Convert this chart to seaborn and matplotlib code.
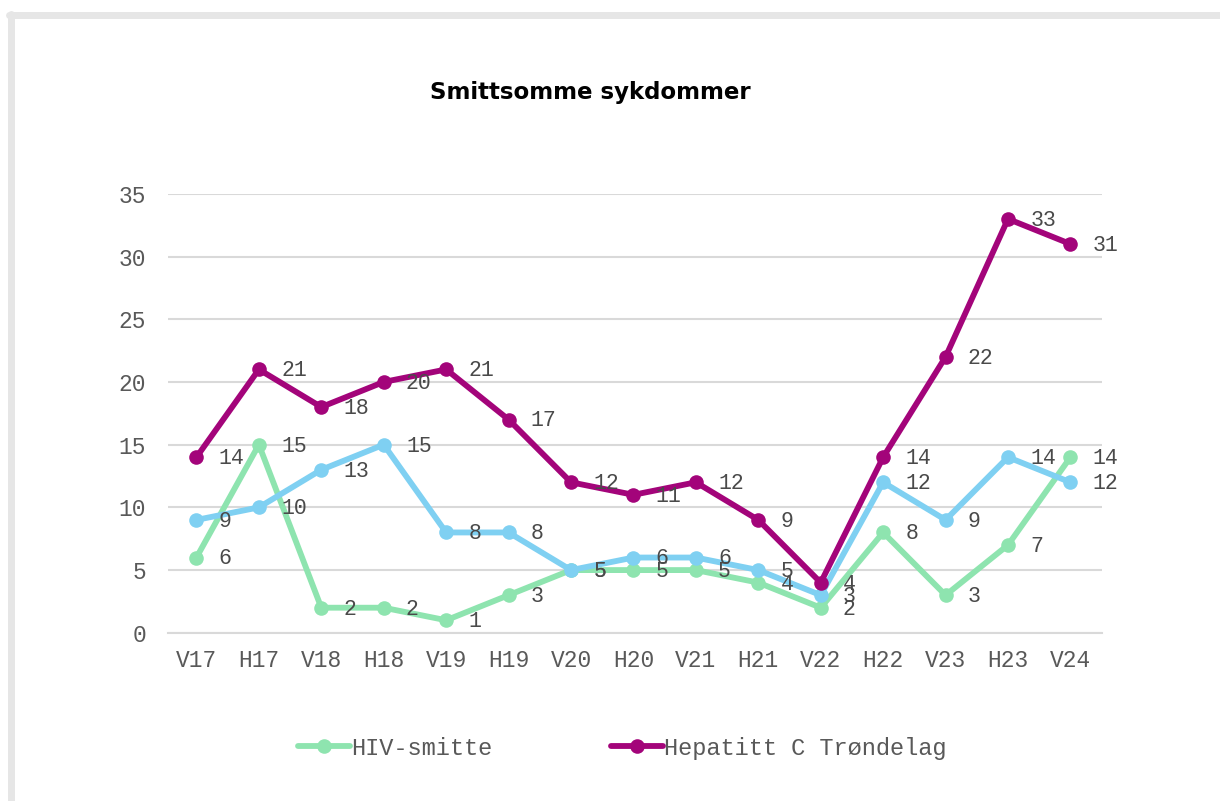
import matplotlib
matplotlib.use("Agg")
import matplotlib.pyplot as plt
import seaborn as sns
import pandas as pd
from matplotlib.lines import Line2D

periods = ["V17", "H17", "V18", "H18", "V19", "H19", "V20", "H20", "V21", "H21",
           "V22", "H22", "V23", "H23", "V24"]
hiv = [6, 15, 2, 2, 1, 3, 5, 5, 5, 4, 2, 8, 3, 7, 14]
hepc = [14, 21, 18, 20, 21, 17, 12, 11, 12, 9, 4, 14, 22, 33, 31]
third = [9, 10, 13, 15, 8, 8, 5, 6, 6, 5, 3, 12, 9, 14, 12]
series_names = ["HIV-smitte", "Hepatitt C Trøndelag", "Øvrige"]
colors = ["#8EE4AF", "#A3047A", "#7FD0F2"]

sns.set_theme(style="white")
plt.rcParams['font.family'] = ['Liberation Mono', 'DejaVu Sans Mono']

rows = []
for name, vals in zip(series_names, [hiv, hepc, third]):
    for i, (p, v) in enumerate(zip(periods, vals)):
        rows.append({"idx": i, "periode": p, "verdi": v, "serie": name})
df = pd.DataFrame(rows)

fig = plt.figure(figsize=(12.2, 8.01), dpi=100)
ax = fig.add_axes([0.138, 0.21, 0.765, 0.548])

LW = 4.2
MS = 10.5
# draw order: HIV, blue, Hep C on top
order = [series_names[0], series_names[2], series_names[1]]
for name in order:
    sub = df[df["serie"] == name]
    col = colors[series_names.index(name)]
    sns.lineplot(data=sub, x="idx", y="verdi", ax=ax, color=col, linewidth=LW,
                 marker="o", markersize=MS, markeredgewidth=0, legend=False)

for name, vals in zip(series_names, [hiv, hepc, third]):
    for i, v in enumerate(vals):
        ax.annotate(str(v), (i, v), xytext=(16, -1), textcoords="offset points",
                    ha="left", va="center", fontsize=15.5, color="#4A4A4A")

ax.set_xlim(-0.45, 14.5)
ax.set_ylim(0, 35)
ax.set_yticks(range(0, 36, 5))
ax.set_xticks(range(len(periods)))
ax.set_xticklabels(periods)
ax.set_xlabel("")
ax.set_ylabel("")
ax.grid(axis="y", color="#D9D9D9", linewidth=1.5)
ax.set_axisbelow(True)
for s in ["top", "right", "left"]:
    ax.spines[s].set_visible(False)
ax.spines["bottom"].set_color("#D9D9D9")
ax.spines["bottom"].set_linewidth(1.5)
ax.tick_params(axis="both", length=0, labelsize=16.5, labelcolor="#595959", pad=12)
ax.tick_params(axis="y", pad=16)

fig.text(0.484, 0.885, "Smittsomme sykdommer", ha="center", va="center",
         fontsize=16.5, fontweight="heavy", family=["DejaVu Sans"], color="black")

handles = [Line2D([0], [0], color=colors[0], lw=LW, marker="o", markersize=MS, markeredgewidth=0),
           Line2D([0], [0], color=colors[1], lw=LW, marker="o", markersize=MS, markeredgewidth=0)]
fig.legend(handles, series_names[:2], loc="center", bbox_to_anchor=(0.51, 0.066),
           ncol=2, frameon=False, fontsize=17, labelcolor="#595959",
           handlelength=2.2, handletextpad=0.05, columnspacing=5.0)

# light gray frame at top and left
fig.add_artist(Line2D([0.007, 1.0], [0.981, 0.981], transform=fig.transFigure,
                      color="#E6E6E6", lw=5))
fig.add_artist(Line2D([0.0092, 0.0092], [0.0, 0.983], transform=fig.transFigure,
                      color="#E6E6E6", lw=5))

fig.savefig("out.png", dpi=100, facecolor="white")
